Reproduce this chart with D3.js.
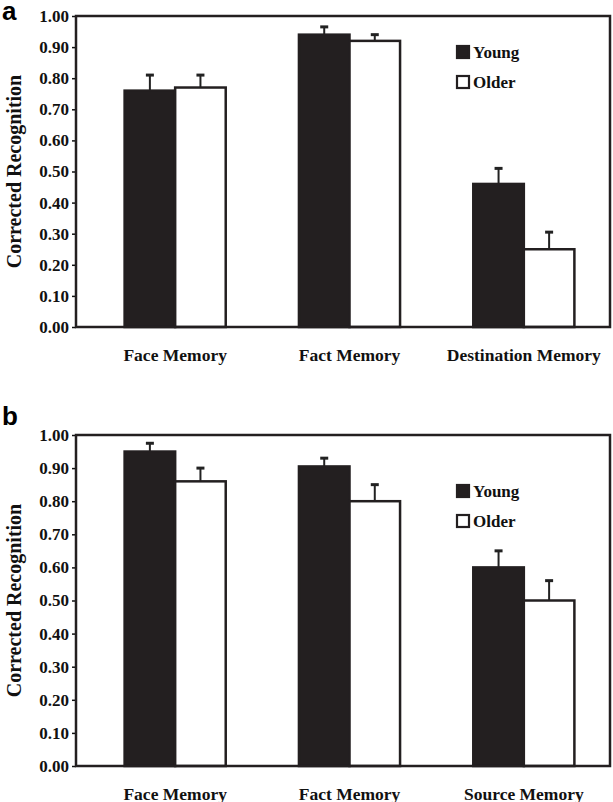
<!DOCTYPE html>
<html><head><meta charset="utf-8">
<script src="https://cdn.jsdelivr.net/npm/d3@7"></script>
<style>body{margin:0;background:#fff}</style></head>
<body><svg id="c" width="613" height="802"></svg>
<script>
const series = ["Young","Older"];
const catsA = ["Face Memory","Fact Memory","Destination Memory"];
const youngA = [0.76,0.94,0.46], youngErrA = [0.05,0.025,0.05];
const olderA = [0.77,0.92,0.25], olderErrA = [0.04,0.02,0.055];
const catsB = ["Face Memory","Fact Memory","Source Memory"];
const youngB = [0.95,0.905,0.60], youngErrB = [0.025,0.025,0.05];
const olderB = [0.86,0.80,0.50], olderErrB = [0.04,0.05,0.06];
const yTicks = [0,0.1,0.2,0.3,0.4,0.5,0.6,0.7,0.8,0.9,1.0];

const svg = d3.select("#c");
const serif = "'Liberation Serif','Times New Roman',serif";

function panel(letter, top, bottom, cats, yv, ye, ov, oe, legY, letterY){
  const g = svg.append("g");
  const L = 76, R = 610;
  const y = d3.scaleLinear().domain([0,1]).range([bottom, top]);
  const x0 = d3.scaleBand().domain(cats).range([88,611]).paddingInner(0.42).paddingOuter(0.21);
  const x1 = d3.scaleBand().domain(series).range([0,x0.bandwidth()]);
  g.append("text").attr("x",2).attr("y",letterY).text(letter)
    .attr("font-family","'Liberation Sans',Arial,sans-serif").attr("font-weight","bold").attr("font-size",26);
  const ax = g.append("g").attr("transform",`translate(${L},0)`)
    .call(d3.axisLeft(y).tickValues(yTicks).tickFormat(d3.format(".2f")).tickSize(4));
  ax.select(".domain").remove();
  ax.selectAll("line").attr("stroke","#111").attr("stroke-width",1.5);
  ax.selectAll("text").attr("font-family",serif).attr("font-weight","bold").attr("font-size",17).attr("fill","#111");
  const data = cats.map((c,i)=>[{c,s:"Young",v:yv[i],e:ye[i]},{c,s:"Older",v:ov[i],e:oe[i]}]).flat();
  data.forEach(d=>{
    const cx = x0(d.c)+x1(d.s)+x1.bandwidth()/2;
    g.append("line").attr("x1",cx).attr("x2",cx).attr("y1",y(d.v)).attr("y2",y(d.v+d.e)).attr("stroke","#222").attr("stroke-width",2);
    g.append("line").attr("x1",cx-4).attr("x2",cx+4).attr("y1",y(d.v+d.e)).attr("y2",y(d.v+d.e)).attr("stroke","#222").attr("stroke-width",3);
  });
  g.selectAll("rect.bar").data(data).join("rect")
    .attr("x",d=>x0(d.c)+x1(d.s)).attr("width",x1.bandwidth())
    .attr("y",d=>y(d.v)).attr("height",d=>y(0)-y(d.v))
    .attr("fill",d=>d.s==="Young"?"#231f20":"#fff")
    .attr("stroke","#231f20").attr("stroke-width",2.5);
  g.append("rect").attr("x",L).attr("y",top).attr("width",R-L).attr("height",bottom-top)
    .attr("fill","none").attr("stroke","#231f20").attr("stroke-width",2.5);
  g.selectAll("text.xl").data(cats).join("text")
    .attr("x",d=>x0(d)+x0.bandwidth()/2).attr("y",bottom+34).attr("text-anchor","middle").text(d=>d)
    .attr("font-family",serif).attr("font-weight","bold").attr("font-size",17.5).attr("fill","#111");
  g.append("text").attr("transform",`translate(21,${(top+bottom)/2}) rotate(-90)`).attr("text-anchor","middle")
    .text("Corrected Recognition").attr("font-family",serif).attr("font-weight","bold").attr("font-size",20).attr("fill","#111");
  series.forEach((s,i)=>{
    const yy = legY + i*30;
    g.append("rect").attr("x",457).attr("y",yy-12).attr("width",12).attr("height",12)
      .attr("fill",i===0?"#231f20":"#fff").attr("stroke","#231f20").attr("stroke-width",2.2);
    g.append("text").attr("x",473).attr("y",yy).text(s)
      .attr("font-family",serif).attr("font-weight","bold").attr("font-size",17).attr("fill","#111");
  });
}
panel("a",16,327,catsA,youngA,youngErrA,olderA,olderErrA,58,20);
panel("b",435,766,catsB,youngB,youngErrB,olderB,olderErrB,497,425);
</script></body></html>
